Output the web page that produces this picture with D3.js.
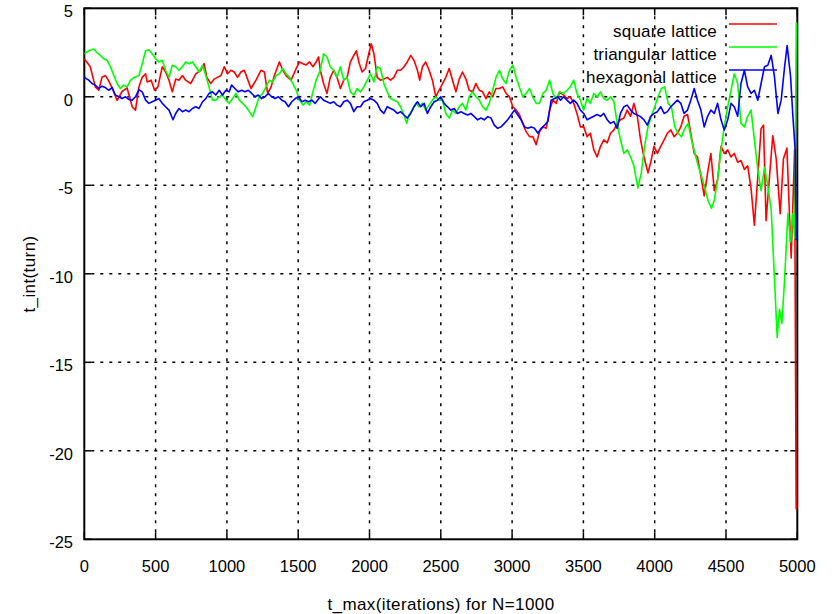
<!DOCTYPE html>
<html>
<head>
<meta charset="utf-8">
<script src="https://cdn.jsdelivr.net/npm/d3@7/dist/d3.min.js"></script>
<style>
  body { margin: 0; background: #fff; }
  svg text { font-family: "Liberation Sans", Arial, sans-serif; fill: #000; }
  svg .tick-label { font-size: 16.5px; }
  svg .axis-title { font-size: 17px; letter-spacing: 0.4px; }
  svg .legend text { font-size: 17px; letter-spacing: 0.2px; }
</style>
</head>
<body>
<svg id="chart" width="835" height="614"></svg>
<script>
// Axis ticks
const xTicks = [0, 500, 1000, 1500, 2000, 2500, 3000, 3500, 4000, 4500, 5000];
const yTicks = [5, 0, -5, -10, -15, -20, -25];
const xTitle = "t_max(iterations) for N=1000";
const yTitle = "t_int(turn)";

// Series: [t_max, t_int]
const seriesNames = ["square lattice", "triangular lattice", "hexagonal lattice"];
const seriesColors = ["#ff0000", "#00ff00", "#0000ff"];

const squareLattice = [
  [0,2.15],[42,1.7],[77,0.56],[101,0.37],[124,1.1],[148,1.2],[171,0.9],[195,0.5],[230,-0.2],[265,0.3],
  [300,0.5],[336,-0.56],[359,-0.75],[383,0.56],[406,1.1],[430,1.3],[441,0.84],[469,0.94],[493,0.37],[516,0.56],
  [547,1.7],[570,1.4],[594,0.94],[617,0.28],[641,1.0],[664,0.94],[688,1.2],[711,0.94],[746,0.75],[782,1.3],
  [817,1.5],[840,1.87],[859,1.1],[887,0.75],[911,1.0],[934,1.1],[958,1.2],[981,1.7],[1005,1.3],[1028,1.5],
  [1051,1.4],[1075,1.1],[1098,1.4],[1122,1.5],[1145,1.0],[1169,0.47],[1204,0.94],[1239,1.5],[1263,1.4],[1286,0.19],
  [1310,0.56],[1333,1.2],[1368,1.97],[1392,1.5],[1415,1.2],[1450,0.94],[1486,1.6],[1509,1.97],[1533,1.87],[1556,1.8],
  [1580,1.97],[1603,1.7],[1626,1.97],[1643,2.25],
  [1655,1.5],[1678,0.75],[1702,0.19],[1725,1.1],[1749,1.5],[1772,1.1],[1796,0.47],[1819,0.94],[1843,1.1],[1866,1.97],
  [1890,2.34],[1908,2.6],[1925,1.97],[1948,1.4],[1972,1.6],[1995,2.43],[2012,3.0],[2031,2.43],[2054,1.1],[2077,0.94],
  [2101,1.0],[2124,1.1],[2148,0.94],[2171,1.1],[2195,1.5],[2218,1.5],[2242,1.7],[2265,1.97],[2289,2.34],[2312,2.06],
  [2336,1.5],[2352,0.94],[2371,1.7],[2394,1.97],[2418,1.5],[2441,0.94],[2465,0],[2488,0.37],[2512,0.75],[2535,1.1],
  [2559,1.6],[2582,0.94],[2606,0.28],[2629,1.0],[2652,1.4],[2676,1.0],[2699,0.37],[2723,0.28],[2746,0.75],[2770,0.37],
  [2793,0.28],[2817,-0.1],[2840,0.28],[2864,0],[2887,0.47],[2911,0.47],[2934,0.56],[2958,0.19],[2981,0],[3005,-0.56],
  [3028,-0.75],[3051,-1.0],[3075,-1.5],[3098,-1.97],[3122,-2.25],[3145,-2.25],[3169,-2.7],[3192,-1.97],[3216,-1.7],[3239,-1.78],
  [3263,-0.75],[3286,-0.19],[3310,-0.37],[3333,0.28],
  [3361,0.1],[3385,-0.1],[3408,0],[3432,-0.37],[3455,-0.94],[3479,-1.7],[3502,-1.7],[3526,-2.25],[3549,-2.06],[3573,-3.0],
  [3596,-3.4],[3620,-2.8],[3643,-2.43],[3667,-2.6],[3690,-2.06],[3714,-1.87],[3737,-1.5],[3760,-1.3],[3784,-1.2],[3807,-0.75],
  [3831,-1.1],[3854,-0.37],[3878,-1.1],[3901,-2.43],[3925,-3.4],[3953,-4.3],[3972,-3.7],[3995,-2.8],[4019,-3.2],[4042,-2.8],
  [4066,-2.43],[4089,-2.06],[4113,-1.87],[4136,-2.25],[4159,-2.06],[4183,-1.7],[4206,-1.1],[4230,-1.0],[4253,-2.06],[4277,-3.2],
  [4300,-3.4],[4324,-4.5],[4347,-5.6],[4371,-4.3],[4394,-3.2],[4418,-5.3],[4441,-4.7],[4465,-2.8],[4488,-3.2],[4512,-3.0],
  [4535,-3.4],[4558,-3.2],[4582,-3.7],[4605,-3.6],[4629,-4.1],[4652,-3.9],[4676,-5.2],[4699,-7.25],[4723,-4.5],[4746,-1.8],
  [4763,-1.6],[4781,-7.0],[4805,-4.5],[4828,-2.2],[4852,-3.5],[4880,-6.6],[4903,-3.5],[4927,-2.9],[4957,-9.1],[4981,-3.0],
  [4992,-23.3]
];

const triangularLattice = [
  [0,2.43],[31,2.6],[66,2.7],[89,2.5],[113,2.34],[136,2.15],[160,2.06],[183,1.7],[207,1.2],[230,0.75],
  [253,0.47],[277,0.66],[300,0.56],[324,0.94],[347,1.08],[383,1.2],[406,1.87],[430,2.6],[453,2.65],[476,2.43],
  [500,2.15],[523,1.97],[547,2.06],[570,1.5],[594,1.1],[617,1.78],[641,1.7],[664,1.5],[688,1.7],[711,1.97],
  [735,1.87],[758,1.97],[782,1.7],[805,1.4],[829,1.78],[852,1.2],[875,0.56],[899,-0.19],[922,-0.19],[946,0],
  [969,0.1],[993,-0.19],[1016,-0.37],[1040,-0.1],[1063,0.19],[1087,-0.19],[1110,-0.37],[1134,-0.56],[1157,-0.84],[1181,-1.12],
  [1204,-0.56],[1227,0],[1251,0.19],[1274,0.56],[1298,0.94],[1321,0.84],[1345,1.2],[1368,1.3],[1392,1.6],[1415,1.3],
  [1439,1.1],[1462,0.75],[1486,0.37],[1509,-0.19],[1533,-0.47],[1556,-0.28],[1580,-0.47],[1603,0.28],[1626,0.94],
  [1655,1.5],[1678,2.43],[1702,2.25],[1725,1.7],[1749,1.5],[1772,1.1],[1796,1.7],[1819,0.94],[1843,1.1],[1866,0.28],
  [1890,0.1],[1913,0.47],[1937,0.28],[1960,0.56],[1984,0.94],[2007,1.3],[2031,0.84],[2054,1.7],[2077,1.6],[2101,0.75],
  [2124,0.28],[2148,-0.1],[2171,-0.19],[2195,-0.28],[2218,-0.56],[2242,-1.03],[2261,-1.5],[2277,-1.03],[2300,-0.75],[2324,-0.37],
  [2347,-0.56],[2371,-0.37],[2394,-0.75],[2418,-0.47],[2441,-0.19],[2465,0],[2488,-0.19],[2512,-0.19],[2535,-0.94],[2559,-1.2],
  [2582,-0.75],[2606,-0.94],[2629,-0.56],[2652,-0.37],[2676,-0.75],[2699,0],[2723,0.28],[2746,0],[2770,-0.19],[2793,-0.56],
  [2817,-0.75],[2840,-0.37],[2864,0.37],[2887,1.1],[2911,1.5],[2934,1.0],[2958,0.75],[2981,1.5],[3005,1.78],[3028,1.1],
  [3051,0.56],[3075,0],[3098,0.19],[3122,0.47],[3145,0],[3169,-0.37],[3192,-0.37],[3216,0.19],[3239,0.37],[3263,0.94],
  [3286,0.19],[3310,-0.1],[3333,0.28],
  [3361,0.19],[3385,0.37],[3408,0.56],[3432,0.94],[3455,0.19],[3479,-0.19],[3502,-0.75],[3526,-0.1],[3549,-0.37],[3573,0.19],
  [3596,0],[3620,0.28],[3643,-0.1],[3667,-0.19],[3690,0],[3714,-0.28],[3737,-1.5],[3760,-2.43],[3784,-3.2],[3807,-3.0],
  [3831,-3.4],[3854,-3.9],[3882,-5.15],[3906,-4.3],[3929,-2.8],[3953,-1.7],[3976,-1.1],[4000,-0.56],[4023,0],[4047,0.47],
  [4070,0.56],[4094,-0.37],[4117,-0.56],[4141,-1.7],[4164,-2.06],[4188,-2.25],[4211,-1.78],[4235,-1.5],[4258,-2.43],[4282,-3.2],
  [4305,-3.9],[4329,-4.5],[4352,-5.15],[4375,-5.9],[4399,-6.3],[4418,-5.85],[4441,-4.7],[4465,-3.0],[4488,-1.7],[4512,-0.56],
  [4535,0.37],[4558,1.3],[4582,0.75],[4605,-1.5],[4629,-1.7],[4652,-1.1],[4676,-0.75],[4699,-2.43],[4723,-4.1],[4746,-5.3],
  [4770,-4.0],[4793,-5.0],[4817,-6.4],[4840,-10.3],[4859,-13.6],[4875,-12.0],[4892,-12.8],[4911,-10.3],[4934,-6.6],[4953,-8.2],
  [4969,-6.6],[4982,-8.0],[4993,4.2]
];

const hexagonalLattice = [
  [0,1.1],[31,0.94],[54,0.75],[77,0.66],[101,0.47],[124,0.6],[148,0.52],[171,0.37],[195,0.52],[218,0.1],
  [242,0],[265,-0.1],[289,0],[312,-0.15],[336,-0.19],[359,0],[383,0.41],[406,0.28],[430,-0.19],[453,-0.37],
  [476,-0.28],[500,-0.19],[523,-0.1],[547,-0.37],[570,-0.56],[594,-0.75],[622,-1.3],[641,-0.94],[664,-0.66],[688,-0.84],
  [711,-0.75],[735,-0.84],[758,-0.66],[782,-0.56],[805,-0.66],[829,-0.28],[852,-0.1],[875,0.19],[899,0.28],[922,0.1],
  [946,0.37],[969,0.1],[993,0.37],[1016,0.28],[1033,0.66],[1056,0.47],[1080,0.28],[1103,0.37],[1127,0.28],[1150,0.37],
  [1174,0.19],[1197,0],[1220,0.1],[1244,-0.1],[1267,0],[1291,0.19],[1314,0],[1338,-0.1],[1361,0],[1385,-0.19],
  [1408,-0.28],[1432,-0.56],[1455,-0.28],[1479,-0.1],[1502,0],[1526,-0.28],[1549,-0.19],[1573,-0.28],[1596,-0.19],[1619,-0.37],
  [1655,0],[1678,-0.19],[1702,-0.28],[1725,-0.37],[1749,-0.28],[1772,-0.47],[1796,-0.56],[1819,-0.28],[1843,-0.19],[1866,-0.37],
  [1890,-0.84],[1913,-0.56],[1937,-0.56],[1960,-0.28],[1984,-0.19],[2007,-0.1],[2031,-0.19],[2054,-0.37],[2077,-0.75],[2101,-0.94],
  [2124,-0.56],[2148,-0.66],[2171,-0.75],[2195,-0.94],[2218,-0.84],[2242,-1.03],[2265,-1.2],[2289,-0.94],[2312,-0.56],[2336,-0.28],
  [2359,-0.56],[2383,-0.37],[2406,-0.94],[2430,-0.56],[2453,-0.28],[2477,-0.19],[2500,0],[2523,-0.37],[2547,-0.56],[2570,-0.75],
  [2594,-0.66],[2617,-0.94],[2641,-0.84],[2664,-0.94],[2688,-1.03],[2711,-0.94],[2735,-1.12],[2758,-1.3],[2782,-1.2],[2805,-1.3],
  [2829,-1.12],[2852,-1.2],[2875,-1.6],[2899,-1.78],[2922,-1.7],[2946,-1.5],[2969,-1.3],[2993,-1.03],[3016,-0.75],[3040,-1.03],
  [3063,-1.3],[3087,-1.7],[3110,-1.78],[3134,-1.7],[3157,-1.78],[3181,-2.06],[3204,-1.78],[3228,-1.6],[3251,-1.4],[3274,-0.19],
  [3298,-0.1],[3321,0],[3340,-0.19],
  [3361,0],[3385,-0.19],[3408,-0.37],[3432,-0.19],[3455,-0.37],[3479,-0.75],[3502,-0.94],[3526,-1.3],[3549,-1.2],[3573,-1.1],
  [3596,-1.0],[3620,-1.1],[3643,-0.94],[3667,-1.3],[3690,-1.5],[3714,-1.4],[3737,-1.78],[3760,-0.94],[3784,-0.56],[3807,-0.47],
  [3831,-0.75],[3854,-0.94],[3878,-1.03],[3901,-1.12],[3925,-1.3],[3948,-1.6],[3972,-1.1],[3995,-0.94],[4019,-0.84],[4042,-0.56],
  [4066,-0.94],[4089,-0.84],[4113,-0.56],[4136,-0.37],[4159,-0.19],[4183,-0.37],[4206,-0.94],[4230,-0.75],[4253,-0.19],[4277,0.47],
  [4300,-0.19],[4324,-0.75],[4347,-1.7],[4371,-1.1],[4394,-0.75],[4418,-0.94],[4441,-0.37],[4465,-1.3],[4488,-1.87],[4512,-1.3],
  [4535,-0.37],[4558,-0.56],[4582,-1.1],[4605,0.75],[4629,1.5],[4652,0.56],[4676,0.19],[4699,0.37],[4723,-0.19],[4746,0.75],
  [4770,1.7],[4793,1.78],[4817,2.34],[4840,1.12],[4864,-0.94],[4887,-0.19],[4911,1.7],[4929,2.9],[4953,1.12],[4969,-1.1],
  [4985,-3.0],[4992,-8.1]
];

const seriesData = [squareLattice, triangularLattice, hexagonalLattice];

// Plot frame edges
const frameLeft = 84.3, frameRight = 797.3, frameTop = 8.3, frameBottom = 539.3;
const svg = d3.select("#chart");
const x = d3.scaleLinear().domain([0, 5000]).range([frameLeft, frameRight]);
const y = d3.scaleLinear().domain([-25, 5]).range([frameBottom, frameTop]);

const tickLen = 7;

// Dotted grid
const grid = svg.append("g").attr("stroke", "#000").attr("stroke-width", 1.5).attr("stroke-dasharray", "3,6");
grid.selectAll("line.gx").data(xTicks.slice(1, -1)).join("line")
  .attr("x1", d => x(d)).attr("x2", d => x(d))
  .attr("y1", frameBottom - tickLen).attr("y2", frameTop + tickLen);
grid.selectAll("line.gy").data(yTicks.slice(1, -1)).join("line")
  .attr("y1", d => y(d)).attr("y2", d => y(d))
  .attr("x1", frameLeft + tickLen).attr("x2", frameRight - tickLen);

// Inward ticks on all four sides
const ticks = svg.append("g").attr("stroke", "#000").attr("stroke-width", 1.5);
xTicks.forEach(t => {
  ticks.append("line").attr("x1", x(t)).attr("x2", x(t)).attr("y1", frameBottom).attr("y2", frameBottom - tickLen);
  ticks.append("line").attr("x1", x(t)).attr("x2", x(t)).attr("y1", frameTop).attr("y2", frameTop + tickLen);
});
yTicks.forEach(t => {
  ticks.append("line").attr("y1", y(t)).attr("y2", y(t)).attr("x1", frameLeft).attr("x2", frameLeft + tickLen);
  ticks.append("line").attr("y1", y(t)).attr("y2", y(t)).attr("x1", frameRight).attr("x2", frameRight - tickLen);
});

// Border
svg.append("rect").attr("x", frameLeft).attr("y", frameTop)
  .attr("width", frameRight - frameLeft).attr("height", frameBottom - frameTop)
  .attr("fill", "none").attr("stroke", "#000").attr("stroke-width", 2);

// Tick labels
svg.append("g").selectAll("text").data(xTicks).join("text")
  .attr("class", "tick-label")
  .attr("x", d => x(d)).attr("y", 572).attr("text-anchor", "middle").text(d => d);
svg.append("g").selectAll("text").data(yTicks).join("text")
  .attr("class", "tick-label")
  .attr("x", 73).attr("y", d => y(d) + 9).attr("text-anchor", "end").text(d => d);

// Axis titles
svg.append("text").attr("class", "axis-title")
  .attr("x", 441).attr("y", 610).attr("text-anchor", "middle").text(xTitle);
svg.append("text").attr("class", "axis-title")
  .attr("transform", "translate(35,274) rotate(-90)").attr("text-anchor", "middle").text(yTitle);

// Series lines
const line = d3.line().x(d => x(d[0])).y(d => y(d[1]));
seriesData.forEach((data, i) => {
  svg.append("path").datum(data)
    .attr("fill", "none").attr("stroke", seriesColors[i])
    .attr("stroke-width", 1.6).attr("stroke-linejoin", "round")
    .attr("d", line);
});

// Legend
const legend = svg.append("g").attr("class", "legend");
seriesNames.forEach((name, i) => {
  const base = 37 + i * 23;
  legend.append("text").attr("x", 717).attr("y", base).attr("text-anchor", "end").text(name);
  legend.append("line").attr("x1", 729).attr("x2", 777)
    .attr("y1", base - 13).attr("y2", base - 13)
    .attr("stroke", seriesColors[i]).attr("stroke-width", 1.6);
});
</script>
</body>
</html>
